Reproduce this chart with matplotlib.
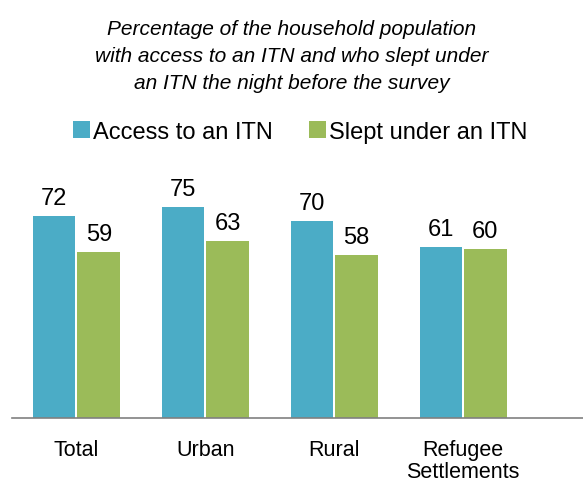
import matplotlib.pyplot as plt
import numpy as np

plt.rcParams['font.family'] = ['Liberation Sans', 'DejaVu Sans']

categories = ["Total", "Urban", "Rural", "Refugee\nSettlements"]
access_itn = [72, 75, 70, 61]
slept_itn = [59, 63, 58, 60]

blue = "#4BACC6"
green = "#9BBB59"

fig = plt.figure(figsize=(5.83, 4.85), dpi=100)
ax = fig.add_axes([12 / 583, 66 / 485, 571 / 583, 244 / 485])

x = np.arange(len(categories))
w = 0.33
b1 = ax.bar(x - w / 2 - 0.008, access_itn, w, color=blue, label="Access to an ITN")
b2 = ax.bar(x + w / 2 + 0.008, slept_itn, w, color=green, label="Slept under an ITN")

ax.bar_label(b1, padding=5, fontsize=17)
ax.bar_label(b2, padding=5, fontsize=17)

ax.set_xlim(-0.5, 3.93)
ax.set_ylim(0, 86.8)
ax.set_xticks(x, categories, fontsize=15.5, linespacing=1.1)
ax.tick_params(axis='x', length=0, pad=15)
ax.set_yticks([])
for s in ["left", "right", "top"]:
    ax.spines[s].set_visible(False)
ax.spines["bottom"].set_color("#808080")
ax.spines["bottom"].set_linewidth(1.2)

fig.text(292 / 583, 1 - 20 / 485,
         "Percentage of the household population\n"
         "with access to an ITN and who slept under\n"
         "an ITN the night before the survey",
         ha='center', va='top', fontsize=15, style='italic', linespacing=1.52)

fig.legend(handles=[b1, b2], loc='center', bbox_to_anchor=(300 / 583, 1 - 133 / 485),
           ncol=2, frameon=False, fontsize=17, handlelength=0.72, handleheight=0.72,
           handletextpad=0.12, columnspacing=1.55, borderpad=0)

fig.savefig("out.png", dpi=100)
